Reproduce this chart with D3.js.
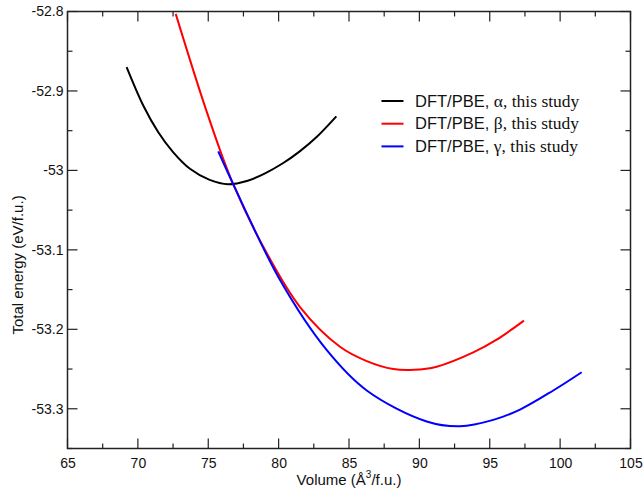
<!DOCTYPE html>
<html>
<head>
<meta charset="utf-8">
<script src="https://cdn.jsdelivr.net/npm/d3@7"></script>
<style>
  html, body { margin: 0; padding: 0; background: #fff; }
  svg { display: block; }
</style>
</head>
<body>
<svg id="chart" width="644" height="495"></svg>
<script>
// ---- data ----
const alphaVol = [69.2, 70.4, 71.45, 72.5, 73.7, 75.1, 76.4, 77.8, 79.0, 80.3, 81.5, 82.7, 84.1];
const alphaE   = [-52.870, -52.919, -52.952, -52.977, -52.998, -53.012, -53.0175, -53.013, -53.004, -52.991, -52.976, -52.958, -52.932];

const betaVol = [72.69, 74.89, 76.74, 79.15, 81.52, 84.36, 86.26, 88.15, 89.6, 91.23, 93.83, 95.49, 97.43];
const betaE   = [-52.803, -52.926, -53.016, -53.104, -53.172, -53.222, -53.240, -53.250, -53.251, -53.247, -53.229, -53.213, -53.189];

const gammaVol = [75.71, 76.74, 80.10, 83.41, 86.26, 90.52, 92.89, 95.25, 97.15, 99.51, 101.53];
const gammaE   = [-52.976, -53.016, -53.138, -53.226, -53.277, -53.316, -53.322, -53.314, -53.301, -53.277, -53.254];

const xTicks = [65, 70, 75, 80, 85, 90, 95, 100, 105];
const yTicks = [-52.8, -52.9, -53, -53.1, -53.2, -53.3];
const seriesNames = ["α", "β", "γ"];
const seriesColors = ["#000000", "#ff0000", "#0000ff"];

// ---- layout ----
const svg = d3.select("#chart");
const pL = 67.5, pR = 630.5, pT = 11.5, pB = 448.5;

const x = d3.scaleLinear().domain([65, 105]).range([pL, pR]);
const y = d3.scaleLinear().domain([-53.35, -52.8]).range([pB, pT]);

const minorX = d3.range(65, 105.01, 2.5).filter(v => !xTicks.includes(v));
const minorY = d3.range(-53.35, -52.79, 0.05).map(v => +v.toFixed(2)).filter(v => !yTicks.some(t => Math.abs(t - v) < 1e-6));

const axisColor = "#222";
const fmtY = d => String(d);

// bottom axis
const gB = svg.append("g").attr("transform", `translate(0,${pB})`)
  .call(d3.axisBottom(x).tickValues(xTicks).tickSize(0).tickPadding(10).tickFormat(d => String(d)));
gB.select(".domain").remove();
gB.selectAll("text").attr("font-family", "Liberation Sans, Arial, sans-serif").attr("font-size", 14).attr("fill", "#111");

// left axis
const gL = svg.append("g").attr("transform", `translate(${pL},0)`)
  .call(d3.axisLeft(y).tickValues(yTicks).tickSize(0).tickPadding(4).tickFormat(fmtY));
gL.select(".domain").remove();
gL.selectAll("text").attr("font-family", "Liberation Sans, Arial, sans-serif").attr("font-size", 14).attr("fill", "#111");

// inward ticks on all four sides
const ticks = svg.append("g").attr("stroke", axisColor).attr("stroke-width", 1.2);
function xt(vals, len) {
  vals.forEach(v => {
    ticks.append("line").attr("x1", x(v)).attr("x2", x(v)).attr("y1", pB).attr("y2", pB - len);
    ticks.append("line").attr("x1", x(v)).attr("x2", x(v)).attr("y1", pT).attr("y2", pT + len);
  });
}
function yt(vals, len) {
  vals.forEach(v => {
    ticks.append("line").attr("y1", y(v)).attr("y2", y(v)).attr("x1", pL).attr("x2", pL + len);
    ticks.append("line").attr("y1", y(v)).attr("y2", y(v)).attr("x1", pR).attr("x2", pR - len);
  });
}
xt(xTicks, 10); xt(minorX, 5);
yt(yTicks, 10); yt(minorY, 5);

// frame
svg.append("rect").attr("x", pL).attr("y", pT).attr("width", pR - pL).attr("height", pB - pT)
  .attr("fill", "none").attr("stroke", axisColor).attr("stroke-width", 1.5);

// curves
const line = d3.line().x(d => x(d[0])).y(d => y(d[1])).curve(d3.curveCatmullRom.alpha(0.5));
const series = [
  d3.zip(alphaVol, alphaE),
  d3.zip(betaVol, betaE),
  d3.zip(gammaVol, gammaE)
];
const plot = svg.append("g");
series.forEach((s, i) => {
  plot.append("path").datum(s).attr("d", line)
    .attr("fill", "none").attr("stroke", seriesColors[i]).attr("stroke-width", 2)
    .attr("stroke-linejoin", "round").attr("stroke-linecap", "butt");
});

// legend
const lg = svg.append("g");
seriesNames.forEach((n, i) => {
  const yy = 101 + i * 22.7;
  lg.append("line").attr("x1", 381.5).attr("x2", 403.5).attr("y1", yy).attr("y2", yy)
    .attr("stroke", seriesColors[i]).attr("stroke-width", 2);
  const t = lg.append("text").attr("x", 415).attr("y", yy + 5.5)
    .attr("font-size", 16.5).attr("fill", "#111");
  t.append("tspan").attr("font-family", "Liberation Sans, Arial, sans-serif").text("DFT/PBE, ");
  t.append("tspan").attr("font-family", "Liberation Serif, Times New Roman, serif").attr("font-size", 17.5).text(n + ", this study");
});

// axis titles
const xt2 = svg.append("text").attr("x", (pL + pR) / 2).attr("y", 485)
  .attr("text-anchor", "middle").attr("font-family", "Liberation Sans, Arial, sans-serif")
  .attr("font-size", 15).attr("fill", "#111");
xt2.append("tspan").text("Volume (Å");
xt2.append("tspan").attr("font-size", 10).attr("dy", -7).text("3");
xt2.append("tspan").attr("dy", 7).text("/f.u.)");

svg.append("text").attr("transform", "translate(22.5,265) rotate(-90)")
  .attr("text-anchor", "middle").attr("font-family", "Liberation Sans, Arial, sans-serif")
  .attr("font-size", 15).attr("fill", "#111").text("Total energy (eV/f.u.)");
</script>
</body>
</html>
